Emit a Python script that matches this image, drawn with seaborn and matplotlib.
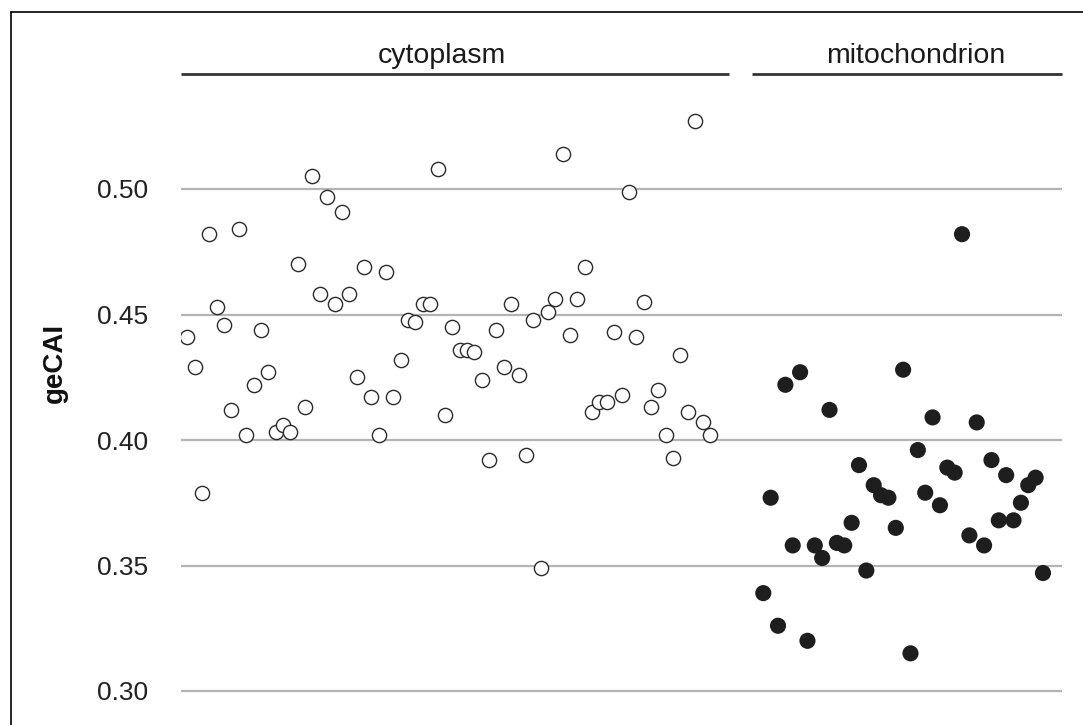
import matplotlib
matplotlib.use("Agg")
import matplotlib.pyplot as plt
import matplotlib.transforms as mtransforms
from matplotlib.lines import Line2D
import seaborn as sns
import pandas as pd
import numpy as np

# ---- data ----
categories = ["cytoplasm", "mitochondrion"]
cytoplasm_gecai = [0.441, 0.429, 0.379, 0.482, 0.453, 0.446, 0.412, 0.484, 0.402, 0.422,
                   0.444, 0.427, 0.403, 0.406, 0.403, 0.470, 0.413, 0.505, 0.458, 0.497,
                   0.454, 0.491, 0.458, 0.425, 0.469, 0.417, 0.402, 0.467, 0.417, 0.432,
                   0.448, 0.447, 0.454, 0.454, 0.508, 0.410, 0.445, 0.436, 0.436, 0.435,
                   0.424, 0.392, 0.444, 0.429, 0.454, 0.426, 0.394, 0.448, 0.349, 0.451,
                   0.456, 0.514, 0.442, 0.456, 0.469, 0.411, 0.415, 0.415, 0.443, 0.418,
                   0.499, 0.441, 0.455, 0.413, 0.420, 0.402, 0.393, 0.434, 0.411, 0.527,
                   0.407, 0.402]
mitochondrion_gecai = [0.339, 0.377, 0.326, 0.422, 0.358, 0.427, 0.320, 0.358, 0.353, 0.412,
                       0.359, 0.358, 0.367, 0.390, 0.348, 0.382, 0.378, 0.377, 0.365, 0.428,
                       0.315, 0.396, 0.379, 0.409, 0.374, 0.389, 0.387, 0.482, 0.362, 0.407,
                       0.358, 0.392, 0.368, 0.386, 0.368, 0.375, 0.382, 0.385, 0.347]
y_ticks = [0.30, 0.35, 0.40, 0.45, 0.50]
y_tick_labels = ["0.30", "0.35", "0.40", "0.45", "0.50"]
y_label = "geCAI"

gap = 6.26  # empty space (in slots) between the two groups
cyto_x = np.arange(len(cytoplasm_gecai))
mito_x = np.arange(len(mitochondrion_gecai)) + len(cytoplasm_gecai) + gap

df = pd.DataFrame({
    "pos": np.concatenate([cyto_x, mito_x]),
    "geCAI": cytoplasm_gecai + mitochondrion_gecai,
    "compartment": [categories[0]] * len(cytoplasm_gecai) + [categories[1]] * len(mitochondrion_gecai),
})

sns.set_theme(style="white")
plt.rcParams["font.family"] = ["Liberation Sans", "DejaVu Sans"]

W, H = 1083, 725
fig = plt.figure(figsize=(W / 100, H / 100), dpi=100)

# axes placed in pixel terms
ax_left, ax_right, ax_top, ax_bot = 181, 1062, 100, 715
ax = fig.add_axes([ax_left / W, 1 - ax_bot / H, (ax_right - ax_left) / W, (ax_bot - ax_top) / H])

# y mapping: 0.50 at px 189, 0.30 at px 691
ppu = (691 - 189) / 0.20
ax.set_ylim(0.30 - (ax_bot - 691) / ppu, 0.50 + (189 - ax_top) / ppu)
spacing = 7.36
x0px = 187.3
ax.set_xlim(-(x0px - ax_left) / spacing, (ax_right - x0px) / spacing)

for yv in y_ticks:
    ax.axhline(yv, color="#b4b4b4", lw=1.6, zorder=0)

sns.scatterplot(data=df[df.compartment == categories[0]], x="pos", y="geCAI", ax=ax,
                marker="o", s=105, facecolor="white", edgecolor="#2b2b2b", linewidth=1.0,
                zorder=3, legend=False)
sns.scatterplot(data=df[df.compartment == categories[1]], x="pos", y="geCAI", ax=ax,
                marker="o", s=135, color="#1e1e1e", edgecolor="none", linewidth=0,
                zorder=3, legend=False)

ax.set_yticks(y_ticks)
ax.set_yticklabels(y_tick_labels)
ax.set_xticks([])
ax.set_xlabel("")
ax.set_ylabel("")
ax.tick_params(axis="y", length=0, pad=24, labelsize=19, labelcolor="#222222")
for sp in ax.spines.values():
    sp.set_visible(False)

# group brackets and labels (x in data, y in axes fraction)
trans = mtransforms.blended_transform_factory(ax.transData, ax.transAxes)
def px2x(px):
    return (px - x0px) / spacing
def py2frac(py):
    return (ax_bot - py) / (ax_bot - ax_top)

brackets = [(181, 729, 442), (752, 1062, 916)]
for (xa, xb, xc), name in zip(brackets, categories):
    ax.plot([px2x(xa), px2x(xb)], [py2frac(74)] * 2, transform=trans, color="#333333",
            lw=2.0, clip_on=False, solid_capstyle="butt")
    ax.text(px2x(xc), py2frac(63), name, transform=trans, ha="center", va="baseline",
            fontsize=20.5, color="#1a1a1a")

# y label
fig.text(55 / W, 1 - 363 / H, y_label, rotation=90, ha="center", va="center",
         fontsize=20, fontweight="bold", color="#111111")

# frame (top and left edges)
fig.add_artist(Line2D([10.5 / W, 1.0], [1 - 12 / H, 1 - 12 / H], transform=fig.transFigure,
                      color="black", lw=1.2))
fig.add_artist(Line2D([10.5 / W, 10.5 / W], [0.0, 1 - 12 / H], transform=fig.transFigure,
                      color="black", lw=1.2))

fig.savefig("out.png", dpi=100, facecolor="white")
